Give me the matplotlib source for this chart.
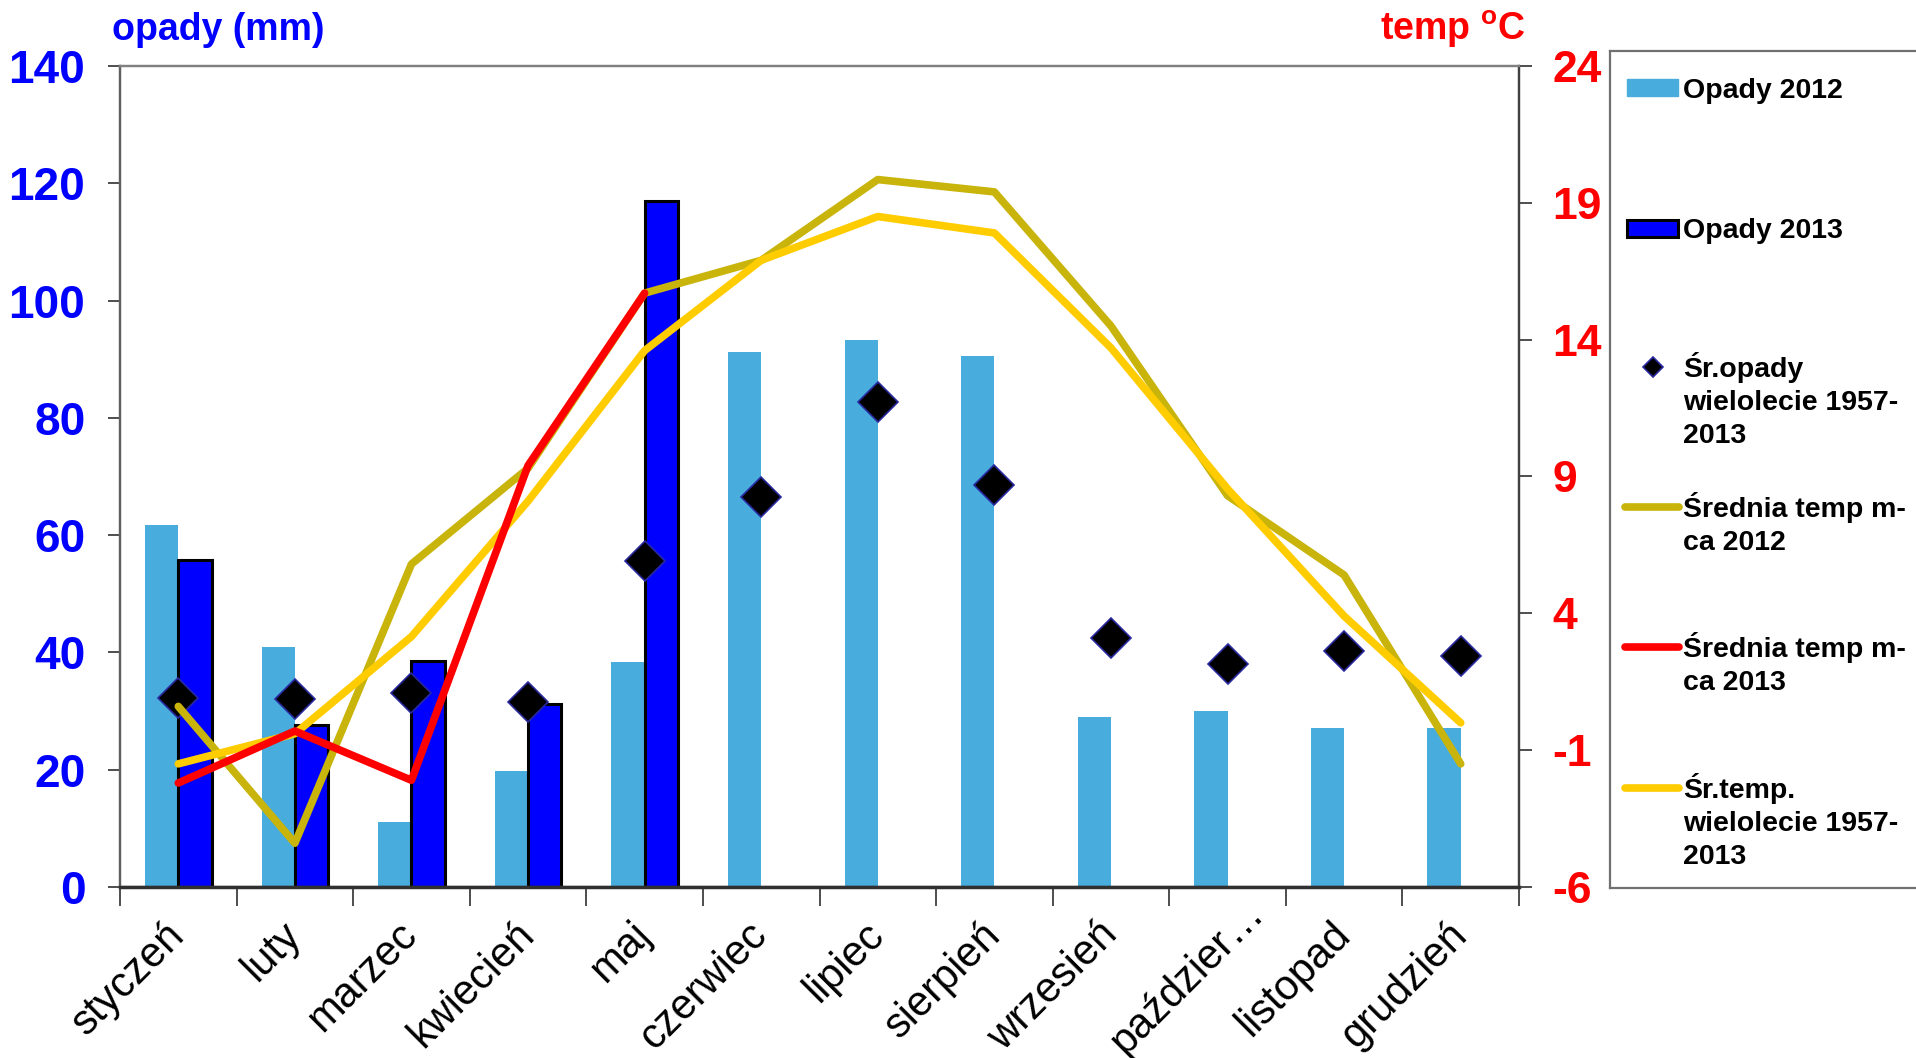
import matplotlib
matplotlib.use("Agg")
import matplotlib.pyplot as plt
from matplotlib.patches import Rectangle
from matplotlib.lines import Line2D
from matplotlib.transforms import ScaledTranslation
import numpy as np

plt.rcParams['font.family'] = ['Liberation Sans', 'DejaVu Sans']
plt.rcParams['mathtext.fontset'] = 'custom'
plt.rcParams['mathtext.bf'] = 'Liberation Sans:bold'
plt.rcParams['mathtext.rm'] = 'Liberation Sans:bold'
plt.rcParams['axes.unicode_minus'] = False

# dane
miesiace = ["styczeń", "luty", "marzec", "kwiecień", "maj", "czerwiec",
            "lipiec", "sierpień", "wrzesień", "paździer…", "listopad", "grudzień"]
opady_2012 = [61.7, 41.0, 11.0, 19.8, 38.3, 91.3, 93.3, 90.6, 29.0, 30.0, 27.1, 27.1]
opady_2013 = [55.8, 27.7, 38.5, 31.2, 116.9]
opady_wielolecie = [32.3, 32.1, 33.1, 31.5, 55.6, 66.5, 82.7, 68.5, 42.5, 38.1, 40.2, 39.4]
temp_2012 = [0.6, -4.4, 5.8, 9.3, 15.7, 16.9, 19.85, 19.4, 14.5, 8.3, 5.4, -1.5]
temp_2013 = [-2.2, -0.3, -2.1, 9.4, 15.7]
temp_wielolecie = [-1.5, -0.4, 3.15, 8.1, 13.6, 16.9, 18.5, 17.9, 13.7, 8.55, 3.9, 0.0]

c_2012 = "#48ACDC"
c_2013 = "#0000FF"
c_t2012 = "#C8B40A"
c_t2013 = "#FF0000"
c_twiel = "#FFCC00"

W, H = 1916, 1058
fig = plt.figure(figsize=(W / 100, H / 100), dpi=100)
ax = fig.add_axes([120 / W, 1 - 887 / H, (1519 - 120) / W, (887 - 66) / H])
ax2 = ax.twinx()

x = np.arange(len(miesiace))
bw = 0.285
ax.bar(x - bw / 2, opady_2012, width=bw, color=c_2012, zorder=2)
x13 = np.arange(len(opady_2013))
ax.bar(x13 + bw / 2, opady_2013, width=bw, color=c_2013, edgecolor="black",
       linewidth=2.2, zorder=2)
ax.plot(x, opady_wielolecie, linestyle="none", marker="D", markersize=20,
        markerfacecolor="black", markeredgecolor="#2828A0", markeredgewidth=1.2, zorder=3)

lw = 5.5
ax2.plot(x, temp_2012, color=c_t2012, linewidth=lw, solid_capstyle="round", zorder=3)
ax2.plot(x, temp_wielolecie, color=c_twiel, linewidth=lw, solid_capstyle="round", zorder=4)
ax2.plot(x13, temp_2013, color=c_t2013, linewidth=lw, solid_capstyle="round", zorder=5)

ax.set_xlim(-0.5, len(miesiace) - 0.5)
ax.set_ylim(0, 140)
ax.set_yticks(np.arange(0, 141, 20))
ax2.set_ylim(-6, 24)
ax2.set_yticks([-6, -1, 4, 9, 14, 19, 24])

ax.set_xticks(x)
ax.set_xticklabels(miesiace, rotation=45, ha="right", va="center",
                   rotation_mode="anchor", fontsize=30)
ax.set_xticks(np.arange(-0.5, len(miesiace)), minor=True)
ax.tick_params(axis="x", which="major", length=0, pad=30)
ax.tick_params(axis="x", which="minor", length=14, width=1.3, color="#404040")
ax.tick_params(axis="y", length=9, width=1.3, color="#404040", labelsize=33,
               labelcolor="#0000FF", pad=16)
for t in ax.get_yticklabels():
    t.set_fontweight("bold")
ax2.tick_params(axis="y", length=9, width=1.3, color="#404040", labelsize=32,
                labelcolor="#FF0000", pad=15)
for t in ax2.get_yticklabels():
    t.set_fontweight("bold")

# skrocona etykieta pazdziernika siedzi nieco wyzej
lab = ax.xaxis.get_major_ticks()[9].label1
lab.set_transform(lab.get_transform() + ScaledTranslation(0.30, 0.22, fig.dpi_scale_trans))

for a in (ax, ax2):
    a.spines["left"].set_color("#606060")
    a.spines["right"].set_color("#404040")
    a.spines["top"].set_color("#808080")
    a.spines["bottom"].set_color("#303030")
    for s in a.spines.values():
        s.set_linewidth(1.6)
ax.spines["bottom"].set_linewidth(2.5)

fig.text(112 / W, 1 - 40 / H, "opady (mm)", color="#0000FF", fontsize=27,
         fontweight="bold", va="baseline", ha="left")
fig.text(1525 / W, 1 - 40 / H, r"temp $^{\mathbf{o}}$C", color="#FF0000", fontsize=27,
         fontweight="bold", va="baseline", ha="right")

# legenda
lg = fig.add_axes([1610 / W, 1 - 888 / H, (W - 1610) / W, (888 - 51) / H])
lg.set_xlim(0, 1)
lg.set_ylim(0, 1)
lg.set_xticks([])
lg.set_yticks([])
lg.patch.set_alpha(0)
lg.spines["right"].set_visible(False)
for s in ("left", "top", "bottom"):
    lg.spines[s].set_color("#707070")
    lg.spines[s].set_linewidth(1.6)

etykiety = [["Opady 2012"], ["Opady 2013"], ["Śr.opady", "wielolecie 1957-", "2013"],
            ["Średnia temp m-", "ca 2012"], ["Średnia temp m-", "ca 2013"],
            ["Śr.temp.", "wielolecie 1957-", "2013"]]
ys = [0.956, 0.788, 0.622, 0.455, 0.288, 0.120]
krok = 0.0394
lg.add_patch(Rectangle((0.056, ys[0] - 0.010), 0.165, 0.020, color=c_2012))
lg.add_patch(Rectangle((0.056, ys[1] - 0.010), 0.165, 0.020, facecolor=c_2013,
                       edgecolor="black", linewidth=2.2))
lg.add_line(Line2D([0.14], [ys[2]], marker="D", markersize=10, markerfacecolor="black",
                   markeredgecolor="#2828A0", markeredgewidth=1.2, linestyle="none"))
for yy, cc in zip(ys[3:], [c_t2012, c_t2013, c_twiel]):
    lg.add_line(Line2D([0.05, 0.226], [yy, yy], color=cc, linewidth=lw,
                       solid_capstyle="round"))
for yy, linie in zip(ys, etykiety):
    for i, txt in enumerate(linie):
        lg.text(0.24, yy - 0.012 - i * krok, txt, fontsize=20.5, fontweight="bold",
                va="baseline", ha="left")

fig.savefig("out.png", dpi=100)
